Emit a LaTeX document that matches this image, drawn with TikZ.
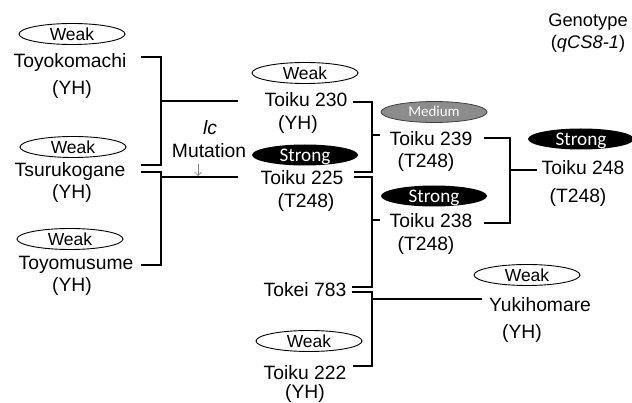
\documentclass[tikz,border=0pt]{standalone}
\usepackage{fontspec}
\setmainfont{Liberation Sans}
\newfontfamily\calfont{Carlito}
\usetikzlibrary{shapes.geometric,arrows.meta}
\begin{document}
\begin{tikzpicture}[x=1pt,y=-1pt,
  lbl/.style={inner sep=0pt, anchor=base, font=\fontsize{19.3}{21}\selectfont, text height=14pt, text depth=4pt},
  weak/.style={ellipse, draw=black, line width=0.9pt, fill=white, minimum width=106pt, minimum height=21pt, inner sep=0pt, text height=12.5pt, text depth=0pt, font=\fontsize{17.5}{17.5}\selectfont},
  strong/.style={ellipse, fill=black, text=white, minimum width=106pt, minimum height=21pt, inner sep=0pt, text height=12.3pt, text depth=0pt, font=\calfont\fontsize{19.2}{19.2}\selectfont},
  medium/.style={ellipse, fill=black!45, draw=black!75, line width=0.8pt, text=white, minimum width=106pt, minimum height=21pt, inner sep=0pt, text height=9.6pt, text depth=0pt, font=\calfont\fontsize{15}{15}\selectfont},
  conn/.style={line width=1.6pt},
  mutarrow/.style={draw=black!50, line width=0.6pt, -{Straight Barb[length=3.5pt,width=7pt]}}
]
\path[use as bounding box] (0,0) rectangle (632,403);

% left parents
\node[weak] (w1) at (72,34) {Weak};
\node[lbl] (toyo) at (70,68) {Toyokomachi};
\node[lbl] (toyoyh) at (72,95) {(YH)};
\node[weak] (w2) at (73,147) {Weak};
\node[lbl] (tsuru) at (70,177) {Tsurukogane};
\node[lbl] (tsuruyh) at (72,199) {(YH)};
\node[weak] (w3) at (70,239) {Weak};
\node[lbl] (toyom) at (76,270) {Toyomusume};
\node[lbl] (toyomyh) at (72,292) {(YH)};

% mutation label
\node[lbl, font=\itshape\fontsize{19.3}{21}\selectfont] (lc) at (210,135) {lc};
\node[lbl] (mut) at (209,158) {Mutation};

% middle
\node[weak] (w4) at (305,73) {Weak};
\node[lbl] (t230) at (306,107) {Toiku 230};
\node[lbl] (t230yh) at (298,130) {(YH)};
\node[strong] (s1) at (305,155) {Strong};
\node[lbl] (t225) at (302,185) {Toiku 225};
\node[lbl] (t225g) at (306,208) {(T248)};

\node[medium] (m1) at (434,112) {Medium};
\node[lbl] (t239) at (431,146) {Toiku 239};
\node[lbl] (t239g) at (426,168) {(T248)};
\node[strong] (s2) at (434,196) {Strong};
\node[lbl] (t238) at (431,228) {Toiku 238};
\node[lbl] (t238g) at (426,251) {(T248)};

\node[strong] (s3) at (581,139) {Strong};
\node[lbl] (t248) at (583,175) {Toiku 248};
\node[lbl] (t248g) at (578,203) {(T248)};

\node[lbl] (tokei) at (305,297) {Tokei 783};
\node[weak] (w5) at (309,341) {Weak};
\node[lbl] (t222) at (305,379) {Toiku 222};
\node[lbl] (t222yh) at (305,398) {(YH)};

\node[weak] (w6) at (527,275) {Weak};
\node[lbl] (yuki) at (540,312) {Yukihomare};
\node[lbl] (yukiyh) at (522,338) {(YH)};

\node[lbl, font=\fontsize{18.3}{20}\selectfont] (geno) at (588,27) {Genotype};
\node[lbl, font=\fontsize{18.3}{20}\selectfont] (qcs) at (588,49) {(\textit{qCS8-1})};

% junctions and free ends
\coordinate (c1) at (161,101);
\coordinate (e1) at (238,101);
\coordinate (c2) at (161,177);
\coordinate (e2) at (238,177);
\coordinate (c3) at (372,135);
\coordinate (e3) at (380,135);
\coordinate (c4) at (372,220);
\coordinate (e4) at (380,220);
\coordinate (c5) at (372,299);
\coordinate (e5) at (482,299);
\coordinate (c6) at (510,170);
\coordinate (e6) at (537,170);
\coordinate (a1) at (198,164);
\coordinate (a2) at (198,176);

% connectors
\draw[conn] ([xshift=14pt,yshift=6pt]toyo.east) -| (c1) |- ([xshift=16pt,yshift=7pt]tsuru.east);
\draw[conn] (c1) -- (e1);
\draw[conn] ([xshift=16pt]tsuru.east) -| (c2) |- ([xshift=7pt]toyom.east);
\draw[conn] (c2) -- (e2);
\draw[mutarrow] (a1) -- (a2);

\draw[conn] ([xshift=5pt]t230.east) -| (c3) |- ([xshift=10pt,yshift=8pt]t225.east);
\draw[conn] (c3) -- (e3);
\draw[conn] ([xshift=10pt,yshift=3pt]t225.east) -| (c4) |- ([xshift=5pt,yshift=5pt]tokei.east);
\draw[conn] (c4) -- (e4);
\draw[conn] ([xshift=5pt]tokei.east) -| (c5) |- ([xshift=6pt,yshift=8pt]t222.east);
\draw[conn] (c5) -- (e5);

\draw[conn] ([xshift=11pt,yshift=3pt]t239.east) -| (c6) |- ([xshift=11pt]t238.east);
\draw[conn] (c6) -- (e6);
\end{tikzpicture}
\end{document}
